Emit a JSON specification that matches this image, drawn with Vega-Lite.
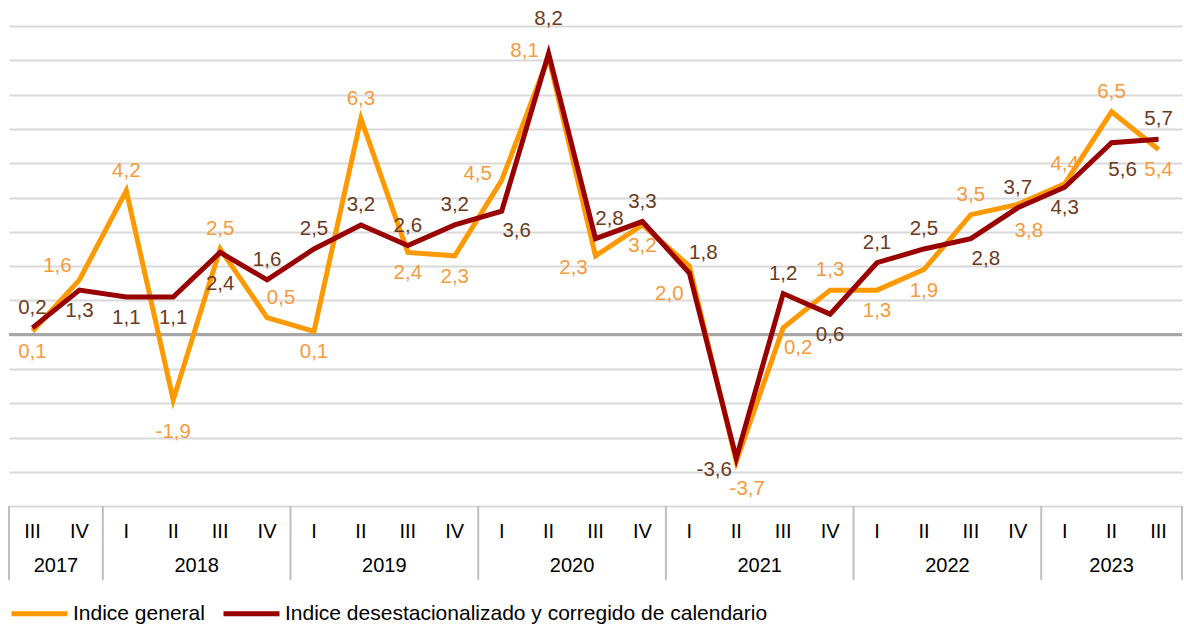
{
  "$schema": "https://vega.github.io/schema/vega-lite/v6.json",
  "width": 1173,
  "height": 554,
  "autosize": {"type": "none"},
  "padding": {"top": 26, "left": 9, "right": 2, "bottom": 46},
  "background": "white",
  "config": {
    "view": {"stroke": null},
    "font": "Liberation Sans",
    "text": {"fontSize": 20.5},
    "locale": {"number": {"decimal": ",", "thousands": ".", "grouping": [3], "currency": ["", " €"], "minus": "-"}}
  },
  "datasets": {
    "d": [
      {"year": 2017, "q": "III", "t": 2017.625, "serie": "Indice general", "v": 0.1, "pos": "S"},
      {"year": 2017, "q": "IV", "t": 2017.875, "serie": "Indice general", "v": 1.6, "pos": "NW"},
      {"year": 2018, "q": "I", "t": 2018.125, "serie": "Indice general", "v": 4.2, "pos": "N"},
      {"year": 2018, "q": "II", "t": 2018.375, "serie": "Indice general", "v": -1.9, "pos": "S2"},
      {"year": 2018, "q": "III", "t": 2018.625, "serie": "Indice general", "v": 2.5, "pos": "N"},
      {"year": 2018, "q": "IV", "t": 2018.875, "serie": "Indice general", "v": 0.5, "pos": "NE"},
      {"year": 2019, "q": "I", "t": 2019.125, "serie": "Indice general", "v": 0.1, "pos": "S"},
      {"year": 2019, "q": "II", "t": 2019.375, "serie": "Indice general", "v": 6.3, "pos": "N"},
      {"year": 2019, "q": "III", "t": 2019.625, "serie": "Indice general", "v": 2.4, "pos": "S"},
      {"year": 2019, "q": "IV", "t": 2019.875, "serie": "Indice general", "v": 2.3, "pos": "S"},
      {"year": 2020, "q": "I", "t": 2020.125, "serie": "Indice general", "v": 4.5, "pos": "W"},
      {"year": 2020, "q": "II", "t": 2020.375, "serie": "Indice general", "v": 8.1, "pos": "W"},
      {"year": 2020, "q": "III", "t": 2020.625, "serie": "Indice general", "v": 2.3, "pos": "SW"},
      {"year": 2020, "q": "IV", "t": 2020.875, "serie": "Indice general", "v": 3.2, "pos": "S"},
      {"year": 2021, "q": "I", "t": 2021.125, "serie": "Indice general", "v": 2.0, "pos": "SW2"},
      {"year": 2021, "q": "II", "t": 2021.375, "serie": "Indice general", "v": -3.7, "pos": "SE2"},
      {"year": 2021, "q": "III", "t": 2021.625, "serie": "Indice general", "v": 0.2, "pos": "SE"},
      {"year": 2021, "q": "IV", "t": 2021.875, "serie": "Indice general", "v": 1.3, "pos": "N"},
      {"year": 2022, "q": "I", "t": 2022.125, "serie": "Indice general", "v": 1.3, "pos": "S"},
      {"year": 2022, "q": "II", "t": 2022.375, "serie": "Indice general", "v": 1.9, "pos": "S"},
      {"year": 2022, "q": "III", "t": 2022.625, "serie": "Indice general", "v": 3.5, "pos": "N"},
      {"year": 2022, "q": "IV", "t": 2022.875, "serie": "Indice general", "v": 3.8, "pos": "SE2"},
      {"year": 2023, "q": "I", "t": 2023.125, "serie": "Indice general", "v": 4.4, "pos": "N"},
      {"year": 2023, "q": "II", "t": 2023.375, "serie": "Indice general", "v": 6.5, "pos": "N"},
      {"year": 2023, "q": "III", "t": 2023.625, "serie": "Indice general", "v": 5.4, "pos": "S"},
      {"year": 2017, "q": "III", "t": 2017.625, "serie": "Indice desestacionalizado y corregido de calendario", "v": 0.2, "pos": "N"},
      {"year": 2017, "q": "IV", "t": 2017.875, "serie": "Indice desestacionalizado y corregido de calendario", "v": 1.3, "pos": "S"},
      {"year": 2018, "q": "I", "t": 2018.125, "serie": "Indice desestacionalizado y corregido de calendario", "v": 1.1, "pos": "S"},
      {"year": 2018, "q": "II", "t": 2018.375, "serie": "Indice desestacionalizado y corregido de calendario", "v": 1.1, "pos": "S"},
      {"year": 2018, "q": "III", "t": 2018.625, "serie": "Indice desestacionalizado y corregido de calendario", "v": 2.4, "pos": "S2"},
      {"year": 2018, "q": "IV", "t": 2018.875, "serie": "Indice desestacionalizado y corregido de calendario", "v": 1.6, "pos": "N"},
      {"year": 2019, "q": "I", "t": 2019.125, "serie": "Indice desestacionalizado y corregido de calendario", "v": 2.5, "pos": "N"},
      {"year": 2019, "q": "II", "t": 2019.375, "serie": "Indice desestacionalizado y corregido de calendario", "v": 3.2, "pos": "N"},
      {"year": 2019, "q": "III", "t": 2019.625, "serie": "Indice desestacionalizado y corregido de calendario", "v": 2.6, "pos": "N"},
      {"year": 2019, "q": "IV", "t": 2019.875, "serie": "Indice desestacionalizado y corregido de calendario", "v": 3.2, "pos": "N"},
      {"year": 2020, "q": "I", "t": 2020.125, "serie": "Indice desestacionalizado y corregido de calendario", "v": 3.6, "pos": "SE"},
      {"year": 2020, "q": "II", "t": 2020.375, "serie": "Indice desestacionalizado y corregido de calendario", "v": 8.2, "pos": "N2"},
      {"year": 2020, "q": "III", "t": 2020.625, "serie": "Indice desestacionalizado y corregido de calendario", "v": 2.8, "pos": "NE"},
      {"year": 2020, "q": "IV", "t": 2020.875, "serie": "Indice desestacionalizado y corregido de calendario", "v": 3.3, "pos": "N"},
      {"year": 2021, "q": "I", "t": 2021.125, "serie": "Indice desestacionalizado y corregido de calendario", "v": 1.8, "pos": "NE"},
      {"year": 2021, "q": "II", "t": 2021.375, "serie": "Indice desestacionalizado y corregido de calendario", "v": -3.6, "pos": "SW"},
      {"year": 2021, "q": "III", "t": 2021.625, "serie": "Indice desestacionalizado y corregido de calendario", "v": 1.2, "pos": "N"},
      {"year": 2021, "q": "IV", "t": 2021.875, "serie": "Indice desestacionalizado y corregido de calendario", "v": 0.6, "pos": "S"},
      {"year": 2022, "q": "I", "t": 2022.125, "serie": "Indice desestacionalizado y corregido de calendario", "v": 2.1, "pos": "N"},
      {"year": 2022, "q": "II", "t": 2022.375, "serie": "Indice desestacionalizado y corregido de calendario", "v": 2.5, "pos": "N"},
      {"year": 2022, "q": "III", "t": 2022.625, "serie": "Indice desestacionalizado y corregido de calendario", "v": 2.8, "pos": "SE"},
      {"year": 2022, "q": "IV", "t": 2022.875, "serie": "Indice desestacionalizado y corregido de calendario", "v": 3.7, "pos": "N"},
      {"year": 2023, "q": "I", "t": 2023.125, "serie": "Indice desestacionalizado y corregido de calendario", "v": 4.3, "pos": "S"},
      {"year": 2023, "q": "II", "t": 2023.375, "serie": "Indice desestacionalizado y corregido de calendario", "v": 5.6, "pos": "SE2"},
      {"year": 2023, "q": "III", "t": 2023.625, "serie": "Indice desestacionalizado y corregido de calendario", "v": 5.7, "pos": "N"}
    ]
  },
  "data": {"name": "d"},
  "layer": [
    {
      "mark": {"type": "rule", "stroke": "#A6A6A6", "strokeWidth": 2},
      "encoding": {
        "y": {"datum": 0, "type": "quantitative", "scale": {"domain": [-7.15, 9], "nice": false, "zero": false},
          "axis": {"values": [-5, -4, -3, -2, -1, 0, 1, 2, 3, 4, 5, 6, 7, 8, 9], "tickCount": 16, "labelOverlap": false, "grid": true, "gridColor": "#D9D9D9", "gridWidth": 2, "labels": false, "ticks": false, "domain": false, "title": null}}
      }
    },
    {
      "transform": [{"filter": "datum.serie === 'Indice general'"}],
      "mark": {"type": "line", "strokeWidth": 5},
      "encoding": {
        "x": {"field": "t", "type": "quantitative", "scale": {"domain": [2017.5, 2023.75], "nice": false, "zero": false}, "axis": null},
        "y": {"field": "v", "type": "quantitative",
          "axis": {"values": [-5, -4, -3, -2, -1, 0, 1, 2, 3, 4, 5, 6, 7, 8, 9], "tickCount": 16, "labelOverlap": false, "grid": true, "gridColor": "#D9D9D9", "gridWidth": 2, "labels": false, "ticks": false, "domain": false, "title": null}},
        "color": {"field": "serie", "type": "nominal",
          "scale": {"domain": ["Indice general", "Indice desestacionalizado y corregido de calendario"], "range": ["#FF9900", "#990000"]},
          "legend": {"title": null, "orient": "bottom", "direction": "horizontal", "offset": 3, "symbolType": "stroke", "symbolStrokeWidth": 5, "symbolSize": 3136, "labelFontSize": 21, "labelColor": "#000000", "labelFont": "Liberation Sans", "labelOffset": 3, "columnPadding": 8, "padding": 0, "labelLimit": 0}}
      }
    },
    {
      "transform": [{"filter": "datum.serie !== 'Indice general'"}],
      "mark": {"type": "line", "strokeWidth": 5},
      "encoding": {
        "x": {"field": "t", "type": "quantitative"},
        "y": {"field": "v", "type": "quantitative"},
        "color": {"field": "serie", "type": "nominal"}
      }
    },
    {
      "transform": [{"filter": "datum.pos === 'N'"}],
      "mark": {"type": "text", "dy": -20, "baseline": "middle"},
      "encoding": {
        "x": {"field": "t", "type": "quantitative"}, "y": {"field": "v", "type": "quantitative"},
        "text": {"field": "v", "type": "quantitative", "format": ".1f"},
        "color": {"condition": {"test": "datum.serie === 'Indice general'", "value": "#F79A3E"}, "value": "#6B3A1E"}
      }
    },
    {
      "transform": [{"filter": "datum.pos === 'N2'"}],
      "mark": {"type": "text", "dy": -34, "baseline": "middle"},
      "encoding": {
        "x": {"field": "t", "type": "quantitative"}, "y": {"field": "v", "type": "quantitative"},
        "text": {"field": "v", "type": "quantitative", "format": ".1f"},
        "color": {"condition": {"test": "datum.serie === 'Indice general'", "value": "#F79A3E"}, "value": "#6B3A1E"}
      }
    },
    {
      "transform": [{"filter": "datum.pos === 'S'"}],
      "mark": {"type": "text", "dy": 21, "baseline": "middle"},
      "encoding": {
        "x": {"field": "t", "type": "quantitative"}, "y": {"field": "v", "type": "quantitative"},
        "text": {"field": "v", "type": "quantitative", "format": ".1f"},
        "color": {"condition": {"test": "datum.serie === 'Indice general'", "value": "#F79A3E"}, "value": "#6B3A1E"}
      }
    },
    {
      "transform": [{"filter": "datum.pos === 'S2'"}],
      "mark": {"type": "text", "dy": 32, "baseline": "middle"},
      "encoding": {
        "x": {"field": "t", "type": "quantitative"}, "y": {"field": "v", "type": "quantitative"},
        "text": {"field": "v", "type": "quantitative", "format": ".1f"},
        "color": {"condition": {"test": "datum.serie === 'Indice general'", "value": "#F79A3E"}, "value": "#6B3A1E"}
      }
    },
    {
      "transform": [{"filter": "datum.pos === 'NE'"}],
      "mark": {"type": "text", "dx": 14, "dy": -20, "baseline": "middle"},
      "encoding": {
        "x": {"field": "t", "type": "quantitative"}, "y": {"field": "v", "type": "quantitative"},
        "text": {"field": "v", "type": "quantitative", "format": ".1f"},
        "color": {"condition": {"test": "datum.serie === 'Indice general'", "value": "#F79A3E"}, "value": "#6B3A1E"}
      }
    },
    {
      "transform": [{"filter": "datum.pos === 'NW'"}],
      "mark": {"type": "text", "dx": -22, "dy": -14, "baseline": "middle"},
      "encoding": {
        "x": {"field": "t", "type": "quantitative"}, "y": {"field": "v", "type": "quantitative"},
        "text": {"field": "v", "type": "quantitative", "format": ".1f"},
        "color": {"condition": {"test": "datum.serie === 'Indice general'", "value": "#F79A3E"}, "value": "#6B3A1E"}
      }
    },
    {
      "transform": [{"filter": "datum.pos === 'SE'"}],
      "mark": {"type": "text", "dx": 15, "dy": 20, "baseline": "middle"},
      "encoding": {
        "x": {"field": "t", "type": "quantitative"}, "y": {"field": "v", "type": "quantitative"},
        "text": {"field": "v", "type": "quantitative", "format": ".1f"},
        "color": {"condition": {"test": "datum.serie === 'Indice general'", "value": "#F79A3E"}, "value": "#6B3A1E"}
      }
    },
    {
      "transform": [{"filter": "datum.pos === 'SE2'"}],
      "mark": {"type": "text", "dx": 11, "dy": 27, "baseline": "middle"},
      "encoding": {
        "x": {"field": "t", "type": "quantitative"}, "y": {"field": "v", "type": "quantitative"},
        "text": {"field": "v", "type": "quantitative", "format": ".1f"},
        "color": {"condition": {"test": "datum.serie === 'Indice general'", "value": "#F79A3E"}, "value": "#6B3A1E"}
      }
    },
    {
      "transform": [{"filter": "datum.pos === 'SW'"}],
      "mark": {"type": "text", "dx": -22, "dy": 12, "baseline": "middle"},
      "encoding": {
        "x": {"field": "t", "type": "quantitative"}, "y": {"field": "v", "type": "quantitative"},
        "text": {"field": "v", "type": "quantitative", "format": ".1f"},
        "color": {"condition": {"test": "datum.serie === 'Indice general'", "value": "#F79A3E"}, "value": "#6B3A1E"}
      }
    },
    {
      "transform": [{"filter": "datum.pos === 'SW2'"}],
      "mark": {"type": "text", "dx": -20, "dy": 28, "baseline": "middle"},
      "encoding": {
        "x": {"field": "t", "type": "quantitative"}, "y": {"field": "v", "type": "quantitative"},
        "text": {"field": "v", "type": "quantitative", "format": ".1f"},
        "color": {"condition": {"test": "datum.serie === 'Indice general'", "value": "#F79A3E"}, "value": "#6B3A1E"}
      }
    },
    {
      "transform": [{"filter": "datum.pos === 'W'"}],
      "mark": {"type": "text", "dx": -24, "dy": -6, "baseline": "middle"},
      "encoding": {
        "x": {"field": "t", "type": "quantitative"}, "y": {"field": "v", "type": "quantitative"},
        "text": {"field": "v", "type": "quantitative", "format": ".1f"},
        "color": {"condition": {"test": "datum.serie === 'Indice general'", "value": "#F79A3E"}, "value": "#6B3A1E"}
      }
    },
    {
      "transform": [{"filter": "datum.serie === 'Indice general'"}],
      "mark": {"type": "text", "fontSize": 20, "baseline": "middle", "color": "#000000"},
      "encoding": {
        "x": {"field": "t", "type": "quantitative"},
        "y": {"datum": -5.75, "type": "quantitative"},
        "text": {"field": "q", "type": "nominal"}
      }
    },
    {
      "transform": [
        {"filter": "datum.serie === 'Indice general'"},
        {"aggregate": [{"op": "mean", "field": "t", "as": "tm"}], "groupby": ["year"]}
      ],
      "mark": {"type": "text", "fontSize": 20, "baseline": "middle", "color": "#000000"},
      "encoding": {
        "x": {"field": "tm", "type": "quantitative"},
        "y": {"datum": -6.75, "type": "quantitative"},
        "text": {"field": "year", "type": "nominal"}
      }
    },
    {
      "transform": [{"filter": "datum.serie === 'Indice general' && datum.q === 'I'"}],
      "mark": {"type": "rule", "stroke": "#BFBFBF", "strokeWidth": 2},
      "encoding": {
        "x": {"field": "year", "type": "quantitative"},
        "y": {"datum": -5, "type": "quantitative"},
        "y2": {"datum": -7.15}
      }
    },
    {
      "mark": {"type": "rule", "stroke": "#BFBFBF", "strokeWidth": 2},
      "encoding": {
        "x": {"datum": 2017.5, "type": "quantitative"},
        "y": {"datum": -5, "type": "quantitative"},
        "y2": {"datum": -7.15}
      }
    },
    {
      "mark": {"type": "rule", "stroke": "#BFBFBF", "strokeWidth": 2},
      "encoding": {
        "x": {"datum": 2023.75, "type": "quantitative"},
        "y": {"datum": -5, "type": "quantitative"},
        "y2": {"datum": -7.15}
      }
    }
  ]
}
